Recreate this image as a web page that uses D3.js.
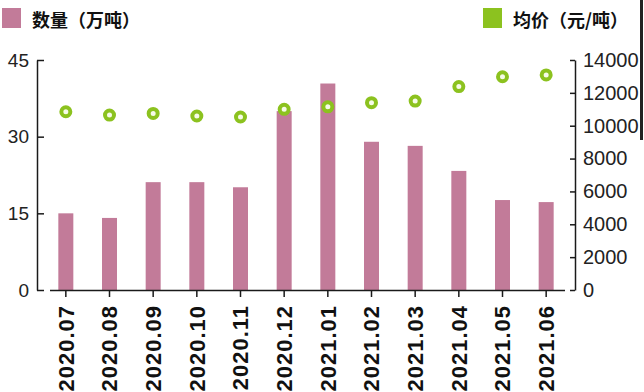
<!DOCTYPE html>
<html><head><meta charset="utf-8">
<script src="https://cdn.jsdelivr.net/npm/d3@7"></script>
<style>body{margin:0;background:#fff}svg{display:block}</style>
</head><body>
<svg id="c" width="644" height="392"></svg>
<script>
const categories = ["2020.07","2020.08","2020.09","2020.10","2020.11","2020.12","2021.01","2021.02","2021.03","2021.04","2021.05","2021.06"];
const quantity = [15.0,14.1,21.1,21.1,20.1,35.0,40.4,29.0,28.2,23.3,17.6,17.2];
const price = [10850,10650,10750,10590,10530,11000,11150,11400,11500,12380,12980,13090];
const leftTicks = [0,15,30,45];
const rightTicks = [0,2000,4000,6000,8000,10000,12000,14000];
const legendLabels = ["数量（万吨）","均价（元/吨）"];

const barColor = "#c27b99", dotColor = "#8cc21f", axisColor = "#1a1a1a";
const svg = d3.select("#c");
const plotTop = 60, plotBottom = 290;
const x = d3.scaleBand().domain(categories).range([44, 568]).padding(0);
const yL = d3.scaleLinear().domain([0,45]).range([plotBottom, plotTop]);
const yR = d3.scaleLinear().domain([0,14000]).range([plotBottom, plotTop]);
const bw = 15;

// bars
svg.append("g").selectAll("rect").data(quantity).join("rect")
  .attr("x", (d,i)=> x(categories[i]) + x.bandwidth()/2 - bw/2)
  .attr("y", d=> yL(d)).attr("width", bw).attr("height", d=> yL(0)-yL(d))
  .attr("fill", barColor);

// x axis
const gx = svg.append("g").attr("transform", `translate(0,${plotBottom})`)
  .call(d3.axisBottom(x).tickSize(7).tickSizeOuter(0));
gx.select(".domain").attr("d", "M50,0.5H565").attr("stroke", axisColor).attr("stroke-width",1.5);
gx.selectAll(".tick line").attr("stroke", axisColor).attr("stroke-width",1.5);
gx.selectAll(".tick text")
  .attr("transform","rotate(-90)").attr("text-anchor","end")
  .attr("x",-15).attr("y",0).attr("dy","0.35em")
  .attr("font-family","'Liberation Sans', Arial, sans-serif").attr("font-weight","bold")
  .attr("font-size",22).attr("letter-spacing",1).attr("fill","#111");

// left axis
const gl = svg.append("g").attr("transform","translate(37,0)")
  .call(d3.axisRight(yL).tickValues(leftTicks).tickSize(7).tickSizeOuter(0));
gl.select(".domain").attr("stroke", axisColor).attr("stroke-width",1.5);
gl.selectAll(".tick line").attr("stroke", axisColor).attr("stroke-width",1.5);
gl.selectAll(".tick text").attr("x",-8).attr("text-anchor","end")
  .attr("font-family","'Liberation Sans', Arial, sans-serif").attr("font-size",19).attr("fill","#222");

// right axis
const gr = svg.append("g").attr("transform","translate(575,0)")
  .call(d3.axisLeft(yR).tickValues(rightTicks).tickFormat(d3.format("d")).tickSize(5).tickSizeOuter(0));
gr.select(".domain").attr("stroke", axisColor).attr("stroke-width",1.5);
gr.selectAll(".tick line").attr("stroke", axisColor).attr("stroke-width",1.5);
gr.selectAll(".tick text").attr("x",8).attr("text-anchor","start")
  .attr("font-family","'Liberation Sans', Arial, sans-serif").attr("font-size",20).attr("fill","#222");

// dots
svg.append("g").selectAll("circle").data(price).join("circle")
  .attr("cx",(d,i)=> x(categories[i]) + x.bandwidth()/2)
  .attr("cy", d=> yR(d)).attr("r",4.5)
  .attr("fill","#f6fbe8").attr("stroke",dotColor).attr("stroke-width",4);

// legend
const lg = svg.append("g");
const legendItems = [{label:legendLabels[0], color:barColor, x:2}, {label:legendLabels[1], color:dotColor, x:483}];
legendItems.forEach(it=>{
  lg.append("rect").attr("x",it.x).attr("y",8).attr("width",19).attr("height",20).attr("fill",it.color);
  lg.append("text").attr("x",it.x+30).attr("y",26.5).text(it.label)
    .attr("font-family","'Noto Sans CJK SC', sans-serif").attr("font-weight","bold")
    .attr("font-size",18).attr("fill","#111");
});
// right edge border artifact
svg.append("rect").attr("x",640).attr("y",0).attr("width",3).attr("height",140).attr("fill","#222");
</script>
</body></html>
